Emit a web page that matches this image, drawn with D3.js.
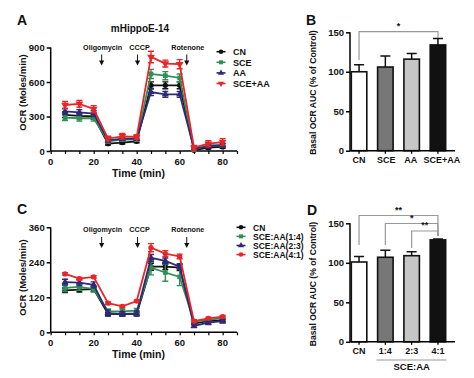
<!DOCTYPE html>
<html><head><meta charset="utf-8">
<script src="https://cdn.jsdelivr.net/npm/d3@7"></script>
<style>
body{margin:0;background:#fff;}
svg{display:block;}
text{font-family:Arial,"Liberation Sans",sans-serif;font-weight:bold;fill:#111;}
</style></head>
<body><svg id="c" width="474" height="378"></svg>
<script>
// ---------- data ----------
const times = [6.67,13.33,20,26.67,33.33,40,46.67,53.33,60,66.67,73.33,80];
const xTicks = [0,20,40,60,80];

const seriesA = ["CN","SCE","AA","SCE+AA"];
const aCN    = [315,305,300, 64, 73, 84,571,571,571,  6, 29, 35];
const aCNe   = [ 25, 25, 25, 12, 12, 12, 30, 30, 30, 10, 12, 12];
const aSCE   = [290,285,285, 84, 99, 99,670,655,635, 12, 50, 50];
const aSCEe  = [ 25, 25, 25, 12, 12, 12, 40, 35, 35, 10, 15, 15];
const aAA    = [345,335,325, 93,108,108,513,493,493, 21, 41, 50];
const aAAe   = [ 25, 25, 25, 15, 15, 15, 30, 25, 25, 12, 15, 15];
const aMix   = [400,410,365,108,128,122,818,760,755, 29, 64, 78];
const aMixe  = [ 30, 30, 30, 20, 25, 20, 50, 30, 40, 20, 25, 30];
const yTicksA = [0,300,600,900];

const seriesC = ["CN","SCE:AA(1:4)","SCE:AA(2:3)","SCE:AA(4:1)"];
const cCN    = [144,146,148, 63, 62, 63,225,225,222, 30, 38, 42];
const cCNe   = [  8,  8,  8,  6,  6,  6, 12, 10, 10,  4,  4,  4];
const c14    = [152,156,148, 72, 72, 74,222,205,190, 38, 42, 50];
const c14e   = [ 12, 12, 10,  8,  8,  8, 25, 30, 30,  5,  5,  5];
const c23    = [172,170,163, 66, 63, 65,255,245,225, 22, 33, 38];
const c23e   = [ 10, 10, 10, 10,  8,  8, 12, 10, 10,  6,  6,  6];
const c41    = [200,184,190,100, 89,107,290,270,260, 38, 48, 54];
const c41e   = [  4,  4,  4,  4,  4,  4, 14, 10,  8,  4,  4,  4];
const yTicksC = [0,120,240,360];

const barCatsB = ["CN","SCE","AA","SCE+AA"];
const barValsB = [100,106,116,134];
const barErrB  = [9,14,7,8];
const barCatsD = ["CN","1:4","2:3","4:1"];
const barValsD = [101,107,109,129];
const barErrD  = [7,9,5,1];
const yTicksBar = [0,50,100,150];

const injections = [{name:"Oligomycin",t:23.7},{name:"CCCP",t:40.4},{name:"Rotenone",t:63.3}];

// ---------- styles ----------
const lineColors = ["#111111","#2f8f55","#2e2a78","#e8262a"];
const barFills = ["#ffffff","#777777","#c6c6c6","#111111"];
const symA = [d3.symbolCircle,d3.symbolSquare,d3.symbolTriangle,d3.symbolTriangle];
const rotA = [0,0,0,180];
const symC = [d3.symbolCircle,d3.symbolSquare,d3.symbolTriangle,d3.symbolCircle];
const rotC = [0,0,0,0];

const svg = d3.select("#c");

function label(x,y,txt,size,anchor,rot){
  const t = svg.append("text").attr("x",x).attr("y",y).attr("font-size",size)
    .attr("text-anchor",anchor||"middle").text(txt);
  if(rot) t.attr("transform",`rotate(${rot},${x},${y})`);
  return t;
}

function linePanel(o){
  const x = d3.scaleLinear().domain([0,86.67]).range([50.7,237]);
  const y = d3.scaleLinear().domain([0,o.ymax]).range([o.y0,o.y1]);
  const g = svg.append("g");
  const minor = d3.range(0,14).map(i=>i*20/3);
  const xa = g.append("g").attr("transform",`translate(0,${o.y0})`)
    .call(d3.axisBottom(x).tickValues(minor).tickSize(3).tickFormat(""));
  xa.select(".domain").attr("stroke-width",1.5).attr("d",`M${x(0)},0H${x(86.67)}`);
  xa.selectAll(".tick line").attr("stroke-width",1.2);
  xTicks.forEach(v=>label(x(v),o.y0+14,v,9.5));
  const ya = g.append("g").attr("transform",`translate(${x(0)},0)`)
    .call(d3.axisLeft(y).tickValues(o.yticks).tickSize(4).tickFormat(""));
  ya.select(".domain").attr("stroke-width",1.5).attr("d",`M0,${o.y0}V${o.y1}`);
  ya.selectAll(".tick line").attr("stroke-width",1.5);
  o.yticks.forEach(v=>label(x(0)-6,y(v)+3.5,v,9.5,"end"));
  o.series.forEach((s,i)=>{
    const col = lineColors[i];
    const sg = g.append("g");
    s.v.forEach((v,j)=>{
      const cx=x(times[j]), top=y(v+s.e[j]), bot=y(Math.max(0,v-s.e[j]));
      sg.append("path").attr("d",`M${cx},${top}V${bot}M${cx-3},${top}H${cx+3}M${cx-3},${bot}H${cx+3}`)
        .attr("stroke",col).attr("stroke-width",1.4).attr("fill","none");
    });
    sg.append("path").datum(s.v).attr("fill","none").attr("stroke",col).attr("stroke-width",1.8)
      .attr("d",d3.line().x((d,j)=>x(times[j])).y(d=>y(d)));
    s.v.forEach((v,j)=>{
      sg.append("path").attr("d",d3.symbol().type(o.sym[i]).size(i===3&&o.sym===symA?26:22)())
        .attr("transform",`translate(${x(times[j])},${y(v)}) rotate(${o.rot[i]})`).attr("fill",col);
    });
  });
  injections.forEach(inj=>{
    const ax = x(inj.t);
    label(ax+(inj.name==="CCCP"?2:1),o.annY,inj.name,7.2);
    const a0 = o.annY+5;
    g.append("line").attr("x1",ax).attr("x2",ax).attr("y1",a0).attr("y2",a0+7)
      .attr("stroke","#111").attr("stroke-width",1);
    g.append("path").attr("d",`M${ax-2.6},${a0+6}L${ax+2.6},${a0+6}L${ax},${a0+11}Z`).attr("fill","#111");
  });
  o.names.forEach((n,i)=>{
    const ly = o.legY + i*o.legDy;
    g.append("line").attr("x1",o.legX).attr("x2",o.legX+9).attr("y1",ly).attr("y2",ly)
      .attr("stroke",lineColors[i]).attr("stroke-width",1.6);
    g.append("path").attr("d",d3.symbol().type(o.sym[i]).size(16)())
      .attr("transform",`translate(${o.legX+4.5},${ly}) rotate(${o.rot[i]})`).attr("fill",lineColors[i]);
    label(o.legX+16.5,ly+3.3,n,o.legFont,"start");
  });
  label(138.5,o.y0+26,"Time (min)",10.5);
  label(25.5,o.yLabC,"OCR (Moles/min)",9.5,"middle",-90);
}

linePanel({ymax:900,y0:151,y1:47.5,yticks:yTicksA,annY:49.5,
  series:[{v:aCN,e:aCNe},{v:aSCE,e:aSCEe},{v:aAA,e:aAAe},{v:aMix,e:aMixe}],
  sym:symA,rot:rotA,names:seriesA,legX:216.5,legY:51.7,legDy:10.6,legFont:9,yLabC:92.5});
linePanel({ymax:360,y0:332.3,y1:227.3,yticks:yTicksC,annY:232,
  series:[{v:cCN,e:cCNe},{v:c14,e:c14e},{v:c23,e:c23e},{v:c41,e:c41e}],
  sym:symC,rot:rotC,names:seriesC,legX:236.5,legY:227.3,legDy:9.1,legFont:8.5,yLabC:277.5});

label(140,32,"mHippoE-14",10);

function barPanel(o){
  const x = d3.scaleBand().domain(o.cats).range([349.2,447.8]).paddingInner(0.35).paddingOuter(0.05);
  const y = d3.scaleLinear().domain([0,150]).range([o.y0,o.y1]);
  const g = svg.append("g");
  o.cats.forEach((c,i)=>{
    const cx = x(c)+x.bandwidth()/2, top=y(o.vals[i]+o.errs[i]);
    g.append("path").attr("d",`M${cx},${y(o.vals[i])}V${top}M${cx-5},${top}H${cx+5}`)
      .attr("stroke","#111").attr("stroke-width",1.5).attr("fill","none");
  });
  g.selectAll("rect").data(o.cats).join("rect")
    .attr("x",c=>x(c)+0.8).attr("width",x.bandwidth()-1.6)
    .attr("y",(c,i)=>y(o.vals[i])).attr("height",(c,i)=>o.y0-y(o.vals[i]))
    .attr("fill",(c,i)=>barFills[i]).attr("stroke","#111").attr("stroke-width",1.6);
  const ya = g.append("g").attr("transform","translate(350,0)")
    .call(d3.axisLeft(y).tickValues(yTicksBar).tickSize(4).tickFormat(""));
  ya.select(".domain").attr("stroke-width",1.5).attr("d",`M0,${o.y0}V${o.y1}`);
  ya.selectAll(".tick line").attr("stroke-width",1.5);
  yTicksBar.forEach(v=>label(344,y(v)+3.5,v,9.5,"end"));
  const xa = g.append("g").attr("transform",`translate(0,${o.y0})`)
    .call(d3.axisBottom(x).tickSize(3).tickFormat(""));
  xa.select(".domain").attr("stroke-width",1.5).attr("d","M350,0H455");
  xa.selectAll(".tick line").attr("stroke-width",1.3);
  o.cats.forEach((c,i)=>label(x(c)+x.bandwidth()/2+(o.labDx?o.labDx[i]:0),o.y0+12,c,9));
  label(315.5,o.yLabC,"Basal OCR AUC (% of Control)",8.6,"middle",-90);
  o.brackets.forEach(b=>{
    const x1 = x(o.cats[b.from])+x.bandwidth()/2, x2 = x(o.cats[b.to])+x.bandwidth()/2;
    g.append("path").attr("d",`M${x1},${b.ly}V${b.y}H${x2}V${b.ry}`)
      .attr("fill","none").attr("stroke","#999").attr("stroke-width",1.2);
    label((x1+x2)/2,b.y-3,b.txt,9);
  });
  return x;
}
barPanel({cats:barCatsB,vals:barValsB,errs:barErrB,y0:150.7,y1:32.3,yLabC:92.5,labDx:[0,1,-1,4],
  brackets:[{from:0,to:3,y:31.7,ly:60,ry:38,txt:"*"}]});
barPanel({cats:barCatsD,vals:barValsD,errs:barErrD,y0:341.8,y1:223.3,yLabC:284,
  brackets:[{from:0,to:3,y:215.5,ly:245,ry:236,txt:"**"},
            {from:1,to:3,y:223.5,ly:245,ry:236,txt:"*"},
            {from:2,to:3,y:231,ly:248,ry:236,txt:"**"}]});
svg.append("line").attr("x1",376.5).attr("x2",446.5).attr("y1",360).attr("y2",360).attr("stroke","#999").attr("stroke-width",1);
label(411.7,370,"SCE:AA",9.5);

label(22,25,"A",14);
label(311,25,"B",14);
label(22,214,"C",14);
label(312,215,"D",14);
</script></body></html>
